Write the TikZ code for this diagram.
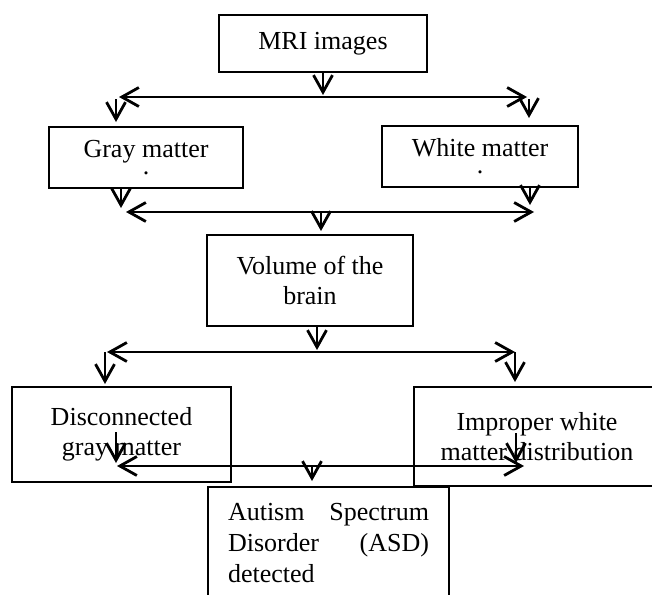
\documentclass[tikz,border=0pt]{standalone}
\usepackage{fontspec}
\setmainfont{Liberation Serif}
\usetikzlibrary{arrows.meta}
\begin{document}
\begin{tikzpicture}[x=1pt,y=-1pt,
  box/.style={draw, line width=2pt, inner sep=0pt, align=center, font=\fontsize{26}{30}\selectfont},
  mybarb/.tip={Straight Barb[length=17pt,width=19pt]},
  arr/.style={line width=2.8pt, -mybarb},
  dbl/.style={line width=2.8pt, mybarb-mybarb}]
\useasboundingbox (0,0) rectangle (652,594);
\clip (0,0) rectangle (652,594);

% boxes
\node[box, minimum width=208pt, minimum height=57pt] (mri) at (323,43.5) {MRI images};
\node[box, minimum width=194pt, minimum height=61pt] (gray) at (146,157.5) {Gray matter\\[-13pt].};
\node[box, minimum width=196pt, minimum height=61pt] (white) at (480,156.5) {White matter\\[-13pt].};
\node[box, minimum width=206pt, minimum height=91pt] (vol) at (310,280.5) {Volume of the\\brain};
\node[box, minimum width=219pt, minimum height=95pt] (disc) at (121.5,434.5) {Disconnected\\gray matter};
\node[box, minimum width=246pt, minimum height=99pt] (impr) at (537,436.5) {Improper white\\matter distribution};
\node[box, anchor=north west, inner xsep=20pt, inner ysep=16pt, align=left, font=\fontsize{26}{31}\selectfont] (asd) at (207,486)
  {\makebox[201pt][s]{Autism Spectrum}\\\makebox[201pt][s]{Disorder (ASD)}\\detected\rule[-40pt]{0pt}{40pt}};

% coordinates
\coordinate (b1l) at (119,97);  \coordinate (b1r) at (527,97);
\coordinate (b2l) at (126,212); \coordinate (b2r) at (534,212);
\coordinate (b3l) at (107,352); \coordinate (b3r) at (515,352);
\coordinate (b4l) at (117,466); \coordinate (b4r) at (524,466);
\coordinate (g1) at (116,99);  \coordinate (w1) at (529,99);
\coordinate (g2) at (121,0);   \coordinate (w2) at (530,0);
\coordinate (v1) at (321,0);   \coordinate (v2) at (317,0);
\coordinate (d1) at (105,0);   \coordinate (i1) at (515,0);
\coordinate (d2) at (116,432); \coordinate (i2) at (516,433);
\coordinate (a1) at (312,0);

% row 1
\draw[arr, shorten >=2pt] (mri.south) -- (mri.south |- b1l);
\draw[dbl] (b1l) -- (b1r);
\draw[arr, shorten >=4pt] (g1) -- (gray.north -| g1);
\draw[arr, shorten >=7pt] (w1) -- (white.north -| w1);
% row 2
\draw[arr, shorten >=4pt] (gray.south -| g2) -- (b2l -| g2);
\draw[arr, shorten >=7pt] (white.south -| w2) -- (b2r -| w2);
\draw[dbl] (b2l) -- (b2r);
\draw[arr, shorten >=3pt] (b2l -| v1) -- (vol.north -| v1);
% row 3
\draw[arr, shorten >=2pt] (vol.south -| v2) -- (b3l -| v2);
\draw[dbl] (b3l) -- (b3r);
\draw[arr, shorten >=2pt] (b3l -| d1) -- (disc.north -| d1);
\draw[arr, shorten >=4pt] (b3r -| i1) -- (impr.north -| i1);
% row 4
\draw[arr, shorten >=3pt] (d2) -- (b4l -| d2);
\draw[arr, shorten >=3pt] (i2) -- (b4r -| i2);
\draw[dbl] (b4l) -- (b4r);
\draw[arr, shorten >=5pt] (b4l -| a1) -- (asd.north -| a1);
\end{tikzpicture}
\end{document}
